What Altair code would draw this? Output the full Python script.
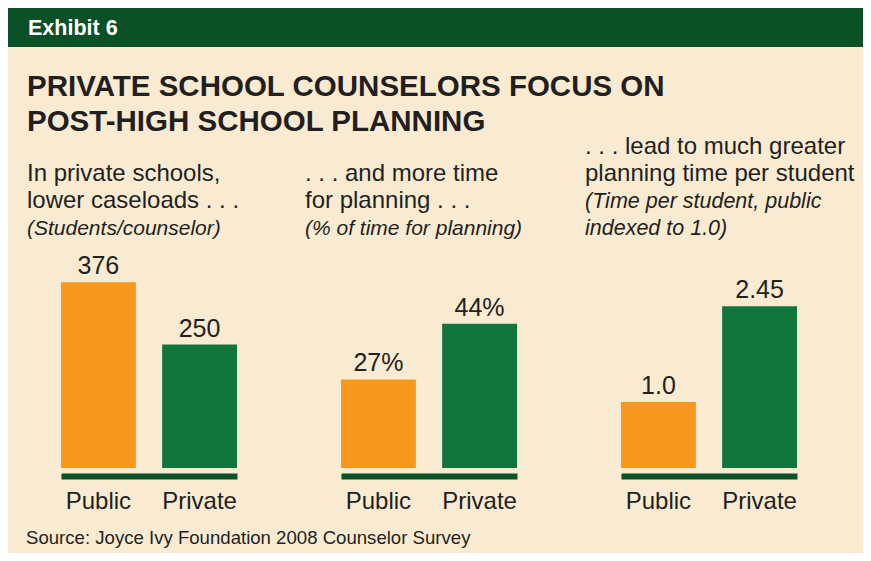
import altair as alt
import pandas as pd

# ---------------- data ----------------
categories = ["Public", "Private"]
caseload = [376, 250]
caseload_labels = ["376", "250"]
planning_pct = [27, 44]
planning_labels = ["27%", "44%"]
time_index = [1.0, 2.45]
time_labels = ["1.0", "2.45"]

header_text = "Exhibit 6"
title_lines = ["PRIVATE SCHOOL COUNSELORS FOCUS ON", "POST-HIGH SCHOOL PLANNING"]
panel1_lines = ["In private schools,", "lower caseloads . . ."]
panel1_note = ["(Students/counselor)"]
panel2_lines = [". . . and more time", "for planning . . ."]
panel2_note = ["(% of time for planning)"]
panel3_lines = [". . . lead to much greater", "planning time per student"]
panel3_note = ["(Time per student, public", "indexed to 1.0)"]
source_text = "Source: Joyce Ivy Foundation 2008 Counselor Survey"

# ---------------- style ----------------
W, H = 855, 545
BG = "#F8EBD2"
ORANGE = "#F7981D"
GREEN = "#10763D"
DARK = "#0C5028"
INK = "#231F20"
FONT = "Liberation Sans"

dummy = pd.DataFrame({"d": [0]})


def txt(lines, x, y, size, weight="normal", style="normal", color=INK, lh=27):
    return alt.Chart(dummy).mark_text(
        align="left", baseline="alphabetic", font=FONT, fontSize=size,
        fontWeight=weight, fontStyle=style, color=color, lineHeight=lh
    ).encode(x=alt.value(x), y=alt.value(y), text=alt.value(lines))


def panel(values, labels, xrange, ymax):
    df = pd.DataFrame({"cat": categories, "value": values, "label": labels})
    base = alt.Chart(df)
    x = alt.X(
        "cat:N", sort=categories,
        scale=alt.Scale(range=xrange, paddingInner=0.26, paddingOuter=0),
        axis=alt.Axis(orient="bottom", offset=-77, title=None, ticks=False,
                      domainColor=DARK, domainWidth=6, labelFont=FONT,
                      labelFontSize=24, labelColor=INK, labelPadding=13,
                      labelAngle=0, grid=False),
    )
    y = alt.Y("value:Q", scale=alt.Scale(domain=[0, ymax], range=[460, 260]), axis=None)
    bars = base.mark_bar().encode(
        x=x, y=y,
        color=alt.Color("cat:N", scale=alt.Scale(domain=categories, range=[ORANGE, GREEN]), legend=None),
    )
    text = base.mark_text(dy=-8, baseline="alphabetic", font=FONT, fontSize=25, color=INK).encode(
        x=x, y=y, text="label:N"
    )
    return alt.layer(bars, text)


header = alt.Chart(dummy).mark_rect(color=DARK).encode(
    x=alt.value(0), x2=alt.value(W), y=alt.value(0), y2=alt.value(39)
)

layers = [
    header,
    txt(header_text, 20, 27, 21.5, weight="bold", color="#FFFFFF"),
    txt(title_lines, 19, 88, 29.5, weight="bold", lh=35),
    txt(panel1_lines, 19, 173, 24),
    txt(panel1_note, 19, 227, 21, style="italic"),
    txt(panel2_lines, 297, 173, 24),
    txt(panel2_note, 297, 227, 21, style="italic"),
    txt(panel3_lines, 577, 146, 24),
    txt(panel3_note, 577, 200, 21.5, style="italic"),
    txt(source_text, 18, 536, 18.6),
    panel(caseload, caseload_labels, [53, 229], 405),
    panel(planning_pct, planning_labels, [333, 509], 61),
    panel(time_index, time_labels, [613, 789], 3.03),
]

chart = alt.layer(*layers).resolve_scale(x="independent", y="independent").properties(
    width=W, height=H, padding=0, background=BG,
    autosize=alt.AutoSizeParams(type="none"),
).configure_view(stroke=None)

chart.save("out.html", embed_options={"renderer": "svg", "actions": False})
